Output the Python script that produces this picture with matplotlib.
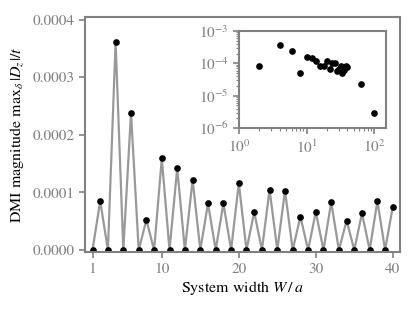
import numpy as np
import matplotlib
matplotlib.use("Agg")
import matplotlib.pyplot as plt
from matplotlib.ticker import FormatStrFormatter, LogLocator

plt.rcParams['font.family'] = ['STIXGeneral', 'DejaVu Serif']
plt.rcParams['mathtext.fontset'] = 'stix'
plt.rcParams['font.size'] = 10

# system widths and DMI magnitude (odd widths give zero)
widths = np.arange(1, 41)
even_vals = [8.5e-5, 3.61e-4, 2.38e-4, 5.2e-5, 1.59e-4, 1.42e-4, 1.22e-4,
             8.1e-5, 8.1e-5, 1.16e-4, 6.6e-5, 1.05e-4, 1.03e-4, 5.8e-5,
             6.6e-5, 8.3e-5, 5.1e-5, 6.4e-5, 8.5e-5, 7.5e-5]
dmi = np.zeros(len(widths))
dmi[1::2] = even_vals

# extra wide systems shown only in the inset
wide_w = [64, 100]
wide_vals = [2.25e-5, 3.0e-6]

grey = '#808080'

fig = plt.figure(figsize=(4.15, 3.11), dpi=100)
ax = fig.add_axes([85/415, 1 - 252.3/311, 315.3/415, 235.6/311])

ax.plot(widths, dmi, '-', color='#999999', lw=1.6, zorder=1)
ax.plot(widths, dmi, 'o', color='black', ms=3.8, zorder=2)

ax.set_xlim(0.025, 40.975)
ax.set_ylim(-0.000004, 0.000405)
ax.set_xticks([1, 10, 20, 30, 40])
ax.set_yticks([0, 0.0001, 0.0002, 0.0003, 0.0004])
ax.yaxis.set_major_formatter(FormatStrFormatter('%.4f'))
ax.set_xlabel(r'System width $W\,/\,a$', fontsize=11.5, labelpad=2)
ax.set_ylabel(r'DMI magnitude $\mathrm{max}_\delta\,|D_z|/t$', fontsize=11.5,
              labelpad=5)

for s in ax.spines.values():
    s.set_color(grey)
    s.set_linewidth(1.5)
ax.tick_params(colors=grey, labelcolor=grey, width=1.2, length=4,
               labelsize=11)

# inset on log-log axes
ins = fig.add_axes([239/415, 1 - 128/311, 147/415, 97/311])
ins.loglog(list(widths[1::2]) + wide_w, even_vals + wide_vals, 'o',
           color='black', ms=3.8)
ins.set_xlim(1, 150)
ins.set_ylim(1e-6, 1e-3)
ins.xaxis.set_major_locator(LogLocator(base=10, numticks=5))
ins.yaxis.set_major_locator(LogLocator(base=10, numticks=5))
ins.yaxis.set_minor_locator(LogLocator(base=10, subs=np.arange(2, 10), numticks=10))
for s in ins.spines.values():
    s.set_color(grey)
    s.set_linewidth(1.5)
ins.tick_params(which='both', colors=grey, labelcolor=grey, labelsize=11)
ins.tick_params(which='major', width=1.2, length=4)
ins.tick_params(which='minor', width=0.8, length=2.5)

fig.savefig('out.png', dpi=100)
